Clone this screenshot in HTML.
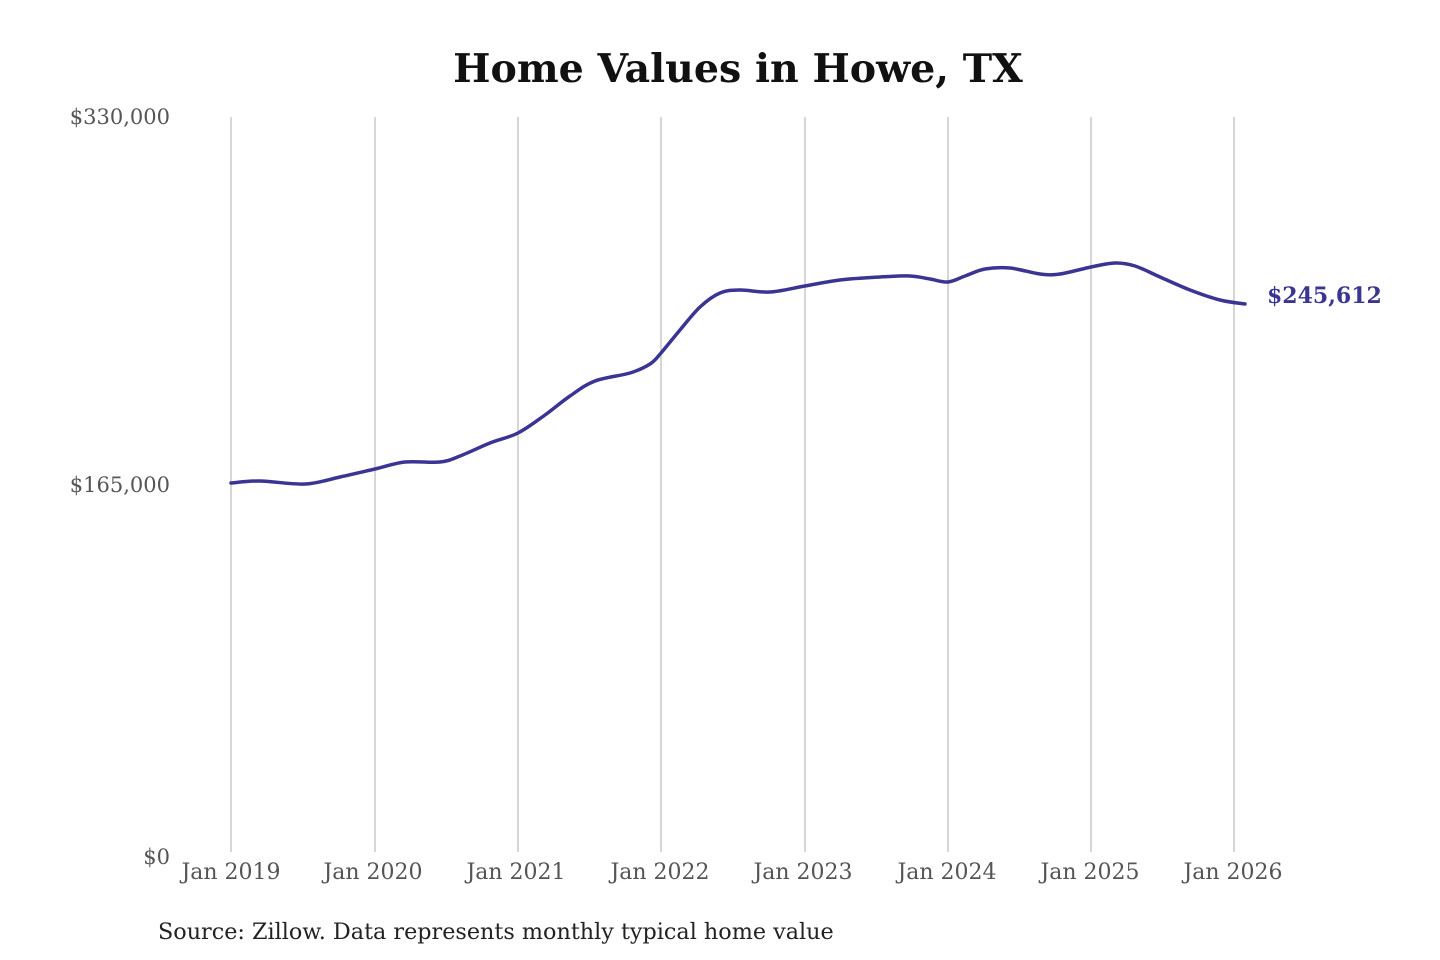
<!DOCTYPE html>
<html><head><style>
html,body{margin:0;padding:0;background:#fff;width:1440px;height:960px;overflow:hidden}
</style></head><body>
<svg width="1440" height="960" viewBox="0 0 1440 960" xmlns="http://www.w3.org/2000/svg" font-family="'DejaVu Serif','Liberation Serif',serif">
<text x="738" y="82" text-anchor="middle" font-size="39.5" font-weight="bold" fill="#111">Home Values in Howe, TX</text>
<g stroke="#c8c8c8" stroke-width="1.5">
<line x1="231" y1="117" x2="231" y2="852"/><line x1="375" y1="117" x2="375" y2="852"/>
<line x1="518" y1="117" x2="518" y2="852"/><line x1="661" y1="117" x2="661" y2="852"/>
<line x1="805" y1="117" x2="805" y2="852"/><line x1="948" y1="117" x2="948" y2="852"/>
<line x1="1091" y1="117" x2="1091" y2="852"/><line x1="1234" y1="117" x2="1234" y2="852"/>
</g>
<g font-size="21" fill="#555" text-anchor="end">
<text x="170" y="124">$330,000</text><text x="170" y="492">$165,000</text><text x="170" y="864">$0</text>
</g>
<g font-size="22" fill="#555" text-anchor="middle">
<text x="231" y="879">Jan 2019</text><text x="373" y="879">Jan 2020</text><text x="516" y="879">Jan 2021</text>
<text x="660" y="879">Jan 2022</text><text x="803" y="879">Jan 2023</text><text x="947" y="879">Jan 2024</text>
<text x="1090" y="879">Jan 2025</text><text x="1233" y="879">Jan 2026</text>
</g>
<path id="ln" fill="none" stroke="#3a3593" stroke-width="3.5" stroke-linejoin="round" stroke-linecap="round" d="M231,483 L260,481 L305,484 L340,477 L375,469 L405,462 L440,462 L460,456 L490,443 L518,433 L545,415 L570,396 L595,381 L630,373 L650,364 L661,353 L680,330 L700,307 L720,293 L740,290 L770,292 L805,286 L840,280 L880,277 L910,276 L930,279 L948,282 L965,276 L985,269 L1010,268 L1040,274 L1060,274 L1091,267 L1115,263 L1135,266 L1160,277 L1190,290 L1220,300 L1245,304"/>
<text x="1267" y="303" font-size="22" font-weight="bold" fill="#3a3593">$245,612</text>
<text x="158" y="939" font-size="22.3" fill="#222">Source: Zillow. Data represents monthly typical home value</text>
</svg>
<script>
var p=[[231,483],[260,481],[305,484],[340,477],[375,469],[405,462],[440,462],[460,456],[490,443],[518,433],[545,415],[570,396],[595,381],[630,373],[650,364],[661,353],[680,330],[700,307],[720,293],[740,290],[770,292],[805,286],[840,280],[880,277],[910,276],[930,279],[948,282],[965,276],[985,269],[1010,268],[1040,274],[1060,274],[1091,267],[1115,263],[1135,266],[1160,277],[1190,290],[1220,300],[1245,304]];
var d="M"+p[0][0]+","+p[0][1];
for(var i=0;i<p.length-1;i++){var a=p[i>0?i-1:i],b=p[i],c=p[i+1],e=p[i+2<p.length?i+2:i+1];
d+=" C"+(b[0]+(c[0]-a[0])/6)+","+(b[1]+(c[1]-a[1])/6)+" "+(c[0]-(e[0]-b[0])/6)+","+(c[1]-(e[1]-b[1])/6)+" "+c[0]+","+c[1];}
document.getElementById("ln").setAttribute("d",d);
</script>
</body></html>
